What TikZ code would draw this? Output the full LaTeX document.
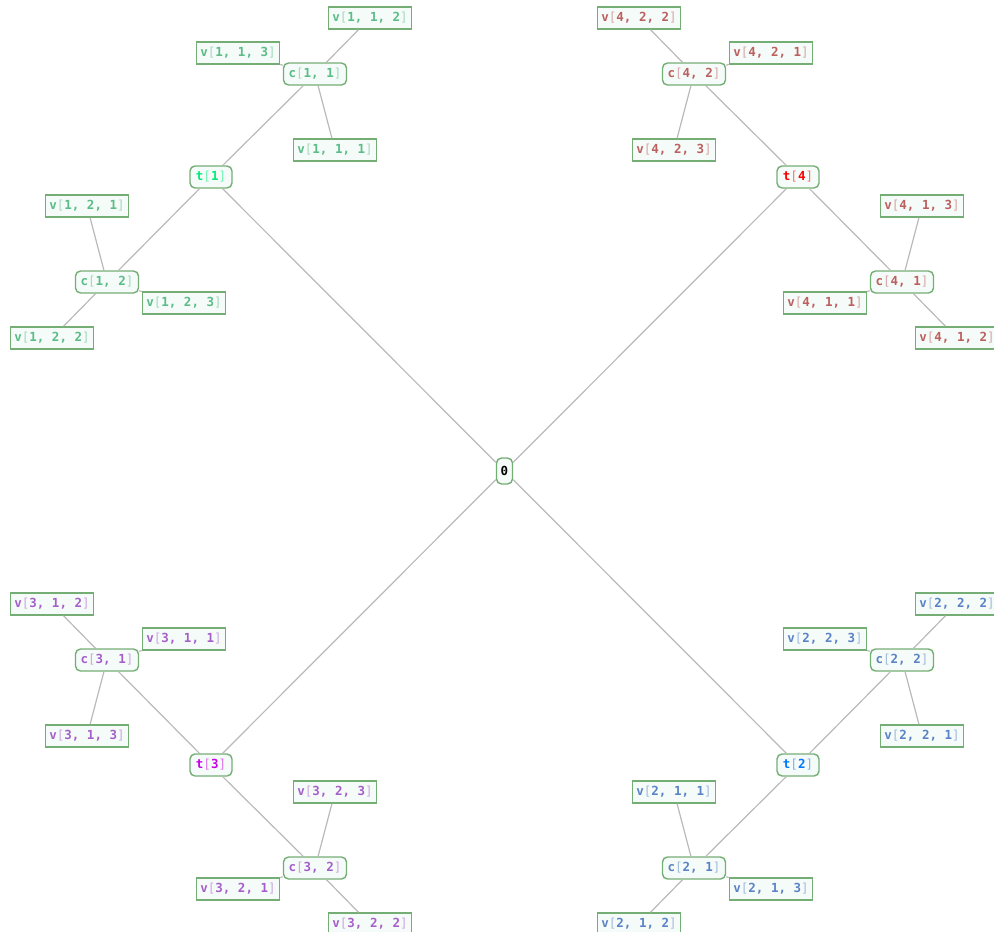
\documentclass[tikz,border=0pt]{standalone}
\usepackage{fontspec}
\setmonofont{DejaVu Sans Mono}
\usepackage{xcolor}
\usepackage{tikz}
\definecolor{grpA}{RGB}{90,188,135}
\definecolor{topA}{RGB}{0,235,120}
\definecolor{grpB}{RGB}{90,130,198}
\definecolor{topB}{RGB}{0,120,255}
\definecolor{grpC}{RGB}{165,95,200}
\definecolor{topC}{RGB}{200,0,230}
\definecolor{grpD}{RGB}{188,95,95}
\definecolor{topD}{RGB}{255,0,0}
\definecolor{edgegreen}{RGB}{116,174,116}
\definecolor{boxfill}{RGB}{245,251,248}
\definecolor{linkgray}{RGB}{185,185,185}
\newcommand{\ix}[3]{\textcolor{#1}{\bfseries #2}\textcolor{#1!55}{[}\textcolor{#1}{\bfseries #3}\textcolor{#1!55}{]}}

\begin{document}
\begin{tikzpicture}[
  x=1pt,y=-1pt,
  vbox/.style={draw=edgegreen,fill=boxfill,line width=1.4pt,minimum width=83pt,minimum height=22pt,inner sep=0pt,font=\ttfamily\fontsize{12.5}{12.5}\selectfont},
  cbox/.style={vbox,rounded corners=5pt,minimum width=63pt},
  tbox/.style={vbox,rounded corners=5pt,minimum width=42pt},
  rootbox/.style={vbox,rounded corners=5pt,minimum width=16pt,minimum height=26pt},
  link/.style={draw=linkgray,line width=1.2pt}
]
\useasboundingbox (0,0) rectangle (994,932);
% root and spokes
\node[rootbox] (root) at (504.5,471) {\textbf{0}};
\node[tbox] (t1) at (211,177) {\ix{topA}{t}{1}};
\node[tbox] (t2) at (798,765) {\ix{topB}{t}{2}};
\node[tbox] (t3) at (211,765) {\ix{topC}{t}{3}};
\node[tbox] (t4) at (798,177) {\ix{topD}{t}{4}};
% group 1
\node[cbox] (c11) at (315,74) {\ix{grpA}{c}{1, 1}};
\node[cbox] (c12) at (107,282) {\ix{grpA}{c}{1, 2}};
\node[vbox] (v111) at (335,150) {\ix{grpA}{v}{1, 1, 1}};
\node[vbox] (v112) at (370,18) {\ix{grpA}{v}{1, 1, 2}};
\node[vbox] (v113) at (238,53) {\ix{grpA}{v}{1, 1, 3}};
\node[vbox] (v121) at (87,206) {\ix{grpA}{v}{1, 2, 1}};
\node[vbox] (v122) at (52,338) {\ix{grpA}{v}{1, 2, 2}};
\node[vbox] (v123) at (184,303) {\ix{grpA}{v}{1, 2, 3}};
% group 2
\node[cbox] (c21) at (694,868) {\ix{grpB}{c}{2, 1}};
\node[cbox] (c22) at (902,660) {\ix{grpB}{c}{2, 2}};
\node[vbox] (v211) at (674,792) {\ix{grpB}{v}{2, 1, 1}};
\node[vbox] (v212) at (639,924) {\ix{grpB}{v}{2, 1, 2}};
\node[vbox] (v213) at (771,889) {\ix{grpB}{v}{2, 1, 3}};
\node[vbox] (v221) at (922,736) {\ix{grpB}{v}{2, 2, 1}};
\node[vbox] (v222) at (957,604) {\ix{grpB}{v}{2, 2, 2}};
\node[vbox] (v223) at (825,639) {\ix{grpB}{v}{2, 2, 3}};
% group 3
\node[cbox] (c31) at (107,660) {\ix{grpC}{c}{3, 1}};
\node[cbox] (c32) at (315,868) {\ix{grpC}{c}{3, 2}};
\node[vbox] (v311) at (184,639) {\ix{grpC}{v}{3, 1, 1}};
\node[vbox] (v312) at (52,604) {\ix{grpC}{v}{3, 1, 2}};
\node[vbox] (v313) at (87,736) {\ix{grpC}{v}{3, 1, 3}};
\node[vbox] (v321) at (238,889) {\ix{grpC}{v}{3, 2, 1}};
\node[vbox] (v322) at (370,924) {\ix{grpC}{v}{3, 2, 2}};
\node[vbox] (v323) at (335,792) {\ix{grpC}{v}{3, 2, 3}};
% group 4
\node[cbox] (c41) at (902,282) {\ix{grpD}{c}{4, 1}};
\node[cbox] (c42) at (694,74) {\ix{grpD}{c}{4, 2}};
\node[vbox] (v411) at (825,303) {\ix{grpD}{v}{4, 1, 1}};
\node[vbox] (v412) at (957,338) {\ix{grpD}{v}{4, 1, 2}};
\node[vbox] (v413) at (922,206) {\ix{grpD}{v}{4, 1, 3}};
\node[vbox] (v421) at (771,53) {\ix{grpD}{v}{4, 2, 1}};
\node[vbox] (v422) at (639,18) {\ix{grpD}{v}{4, 2, 2}};
\node[vbox] (v423) at (674,150) {\ix{grpD}{v}{4, 2, 3}};
% links
\draw[link] (root)--(t1) (root)--(t2) (root)--(t3) (root)--(t4);
\draw[link] (t1)--(c11) (t1)--(c12) (t2)--(c21) (t2)--(c22);
\draw[link] (t3)--(c31) (t3)--(c32) (t4)--(c41) (t4)--(c42);
\draw[link] (c11)--(v111) (c11)--(v112) (c11)--(v113);
\draw[link] (c12)--(v121) (c12)--(v122) (c12)--(v123);
\draw[link] (c21)--(v211) (c21)--(v212) (c21)--(v213);
\draw[link] (c22)--(v221) (c22)--(v222) (c22)--(v223);
\draw[link] (c31)--(v311) (c31)--(v312) (c31)--(v313);
\draw[link] (c32)--(v321) (c32)--(v322) (c32)--(v323);
\draw[link] (c41)--(v411) (c41)--(v412) (c41)--(v413);
\draw[link] (c42)--(v421) (c42)--(v422) (c42)--(v423);
\end{tikzpicture}
\end{document}
